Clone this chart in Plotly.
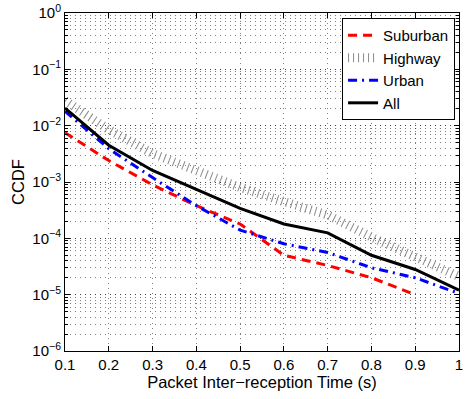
import plotly.graph_objects as go

t = [0.1, 0.2, 0.3, 0.4, 0.5, 0.6, 0.7, 0.8, 0.9, 1.0]
suburban_t = [0.1, 0.2, 0.3, 0.4, 0.5, 0.6, 0.7, 0.8, 0.9]
suburban = [7.5e-3, 2.4e-3, 8.9e-4, 3.8e-4, 1.8e-4, 5.0e-5, 3.3e-5, 2.0e-5, 1.0e-5]
highway = [2.8e-2, 8.5e-3, 3.2e-3, 1.55e-3, 8.0e-4, 4.5e-4, 2.6e-4, 1.05e-4, 4.7e-5, 2.1e-5]
urban = [1.8e-2, 3.9e-3, 1.2e-3, 3.8e-4, 1.4e-4, 8.0e-5, 5.6e-5, 3.0e-5, 2.0e-5, 1.05e-5]
all_ = [2.05e-2, 4.5e-3, 1.6e-3, 7.3e-4, 3.4e-4, 1.8e-4, 1.25e-4, 5.0e-5, 2.8e-5, 1.2e-5]

x_ticks = [0.1, 0.2, 0.3, 0.4, 0.5, 0.6, 0.7, 0.8, 0.9, 1.0]
x_ticktext = ["0.1", "0.2", "0.3", "0.4", "0.5", "0.6", "0.7", "0.8", "0.9", "1"]
y_ticks = [1, 1e-1, 1e-2, 1e-3, 1e-4, 1e-5, 1e-6]
y_ticktext = ["10<sup>0</sup>", "10<sup>−1</sup>", "10<sup>−2</sup>", "10<sup>−3</sup>",
              "10<sup>−4</sup>", "10<sup>−5</sup>", "10<sup>−6</sup>"]

FONT = "Liberation Sans, Arial, Helvetica, sans-serif"

fig = go.Figure()
fig.add_trace(go.Scatter(x=suburban_t, y=suburban, mode="lines", name="Suburban",
                         line=dict(color="#ff0000", width=3, dash="9px,6px")))
fig.add_trace(go.Scatter(x=t, y=highway, mode="lines", name="Highway",
                         line=dict(color="#8a8a8a", width=9, dash="1px,4px")))
fig.add_trace(go.Scatter(x=t, y=urban, mode="lines", name="Urban",
                         line=dict(color="#0000ff", width=3, dash="9px,5px,2px,5px")))
fig.add_trace(go.Scatter(x=t, y=all_, mode="lines", name="All",
                         line=dict(color="#000000", width=3)))

grid_color = "rgba(0,0,0,0.5)"
grid_dash = "1px,4px"
fig.update_xaxes(
    range=[0.1, 1.0], tickvals=x_ticks, ticktext=x_ticktext,
    showline=True, linecolor="black", linewidth=1, mirror="ticks",
    ticks="inside", ticklen=5, tickcolor="black",
    showgrid=True, gridcolor=grid_color, griddash=grid_dash, gridwidth=1,
    zeroline=False, ticklabeloverflow="allow",
    title=dict(text="Packet Inter−reception Time (s)", standoff=1,
               font=dict(size=16.5, family=FONT, color="black")),
    tickfont=dict(size=15, family=FONT, color="black"),
)
fig.update_yaxes(
    type="log", range=[-6, 0], tickvals=y_ticks, ticktext=y_ticktext,
    showline=True, linecolor="black", linewidth=1, mirror="ticks",
    ticks="inside", ticklen=5, tickcolor="black",
    showgrid=True, gridcolor=grid_color, griddash=grid_dash, gridwidth=1,
    minor=dict(dtick="D1", showgrid=True, gridcolor=grid_color, griddash=grid_dash,
               ticks="inside", ticklen=3, tickcolor="black"),
    zeroline=False,
    title=dict(text="CCDF", standoff=3, font=dict(size=16.5, family=FONT, color="black")),
    tickfont=dict(size=15, family=FONT, color="black"),
)
fig.update_layout(
    width=465, height=399,
    margin=dict(l=65, r=2, t=13, b=48),
    paper_bgcolor="white", plot_bgcolor="white",
    font=dict(family=FONT, color="black", size=15),
    showlegend=True,
    legend=dict(x=0.99, y=0.985, xanchor="right", yanchor="top",
                bgcolor="white", bordercolor="black", borderwidth=1,
                font=dict(size=15, family=FONT, color="black"),
                tracegroupgap=0, itemwidth=30),
)
fig.write_html("out.html")
